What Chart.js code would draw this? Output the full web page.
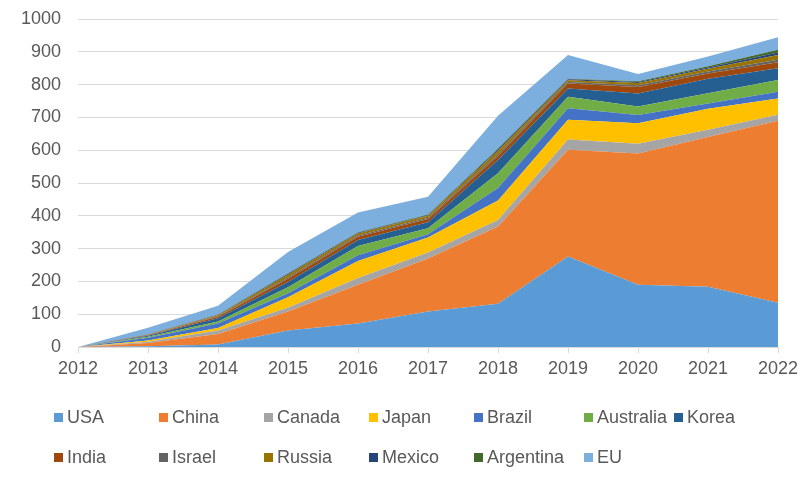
<!DOCTYPE html>
<html lang="en">

<head>
    <meta charset="UTF-8">
    <title>Stacked area by country</title>
    <script src="https://cdn.jsdelivr.net/npm/chart.js"></script>
    <style>
        body { margin: 0; background: #fff; }
        #wrap { position: relative; width: 805px; height: 485px; }
        #legend {
            position: absolute; left: 54px; top: 406px;
            display: grid;
            grid-template-columns: 105px 105px 105px 105px 110px 90px auto;
            row-gap: 17px;
            font: 18px "Liberation Sans", Arial, sans-serif; color: #595959;
        }
        #legend span.item { display: flex; align-items: center; white-space: nowrap; height: 23px; }
        #legend i { display: inline-block; width: 9px; height: 9px; margin-right: 4px; }
    </style>
</head>

<body>
    <div id="wrap">
        <canvas id="myChart" width="805" height="485"></canvas>
        <div id="legend"></div>
    </div>

    <script>
        const years = ['2012', '2013', '2014', '2015', '2016', '2017', '2018', '2019', '2020', '2021', '2022'];

        const usa = [0, 2, 8, 50, 72, 108, 132, 276, 190, 184, 135];
        const china = [0, 10, 32, 58, 118, 162, 235, 325, 400, 456, 555];
        const canada = [0, 4, 10, 12, 20, 18, 20, 32, 30, 22, 18];
        const japan = [0, 4, 8, 32, 52, 46, 60, 60, 62, 64, 50];
        const brazil = [0, 8, 14, 12, 18, 10, 38, 35, 25, 16, 20];
        const australia = [0, 3, 6, 18, 28, 18, 45, 35, 26, 32, 36];
        const korea = [0, 3, 10, 16, 18, 18, 40, 25, 40, 44, 36];
        const india = [0, 2, 4, 10, 10, 10, 12, 15, 20, 16, 18];
        const israel = [0, 1, 2, 4, 4, 4, 6, 5, 5, 6, 8];
        const russia = [0, 1, 3, 8, 6, 6, 10, 5, 7, 8, 14];
        const mexico = [0, 1, 1, 3, 2, 2, 4, 3, 3, 4, 8];
        const argentina = [0, 0, 1, 2, 2, 2, 3, 2, 2, 4, 8];
        const eu = [0, 20, 27, 65, 60, 54, 100, 72, 22, 30, 38];

        const yTicks = [0, 100, 200, 300, 400, 500, 600, 700, 800, 900, 1000];

        const series = [
            ['USA', usa, '#5B9BD5'],
            ['China', china, '#ED7D31'],
            ['Canada', canada, '#A5A5A5'],
            ['Japan', japan, '#FFC000'],
            ['Brazil', brazil, '#4472C4'],
            ['Australia', australia, '#70AD47'],
            ['Korea', korea, '#255E91'],
            ['India', india, '#9E480E'],
            ['Israel', israel, '#636363'],
            ['Russia', russia, '#997300'],
            ['Mexico', mexico, '#264478'],
            ['Argentina', argentina, '#43682B'],
            ['EU', eu, '#7CAFDD']
        ];

        const font = { family: '"Liberation Sans", Arial, sans-serif', size: 18 };
        const gridColor = '#D9D9D9';

        const ctx = document.getElementById('myChart').getContext('2d');

        const chart = new Chart(ctx, {
            type: 'line',
            data: {
                labels: years,
                datasets: series.map(([label, data, color], i) => ({
                    label: label,
                    data: data,
                    backgroundColor: color,
                    borderColor: color,
                    borderWidth: 0,
                    pointRadius: 0,
                    tension: 0,
                    fill: i === 0 ? 'origin' : '-1'
                }))
            },
            options: {
                responsive: false,
                animation: false,
                layout: { padding: { left: 0, right: 27, top: 19, bottom: 98 } },
                plugins: {
                    legend: { display: false },
                    tooltip: { enabled: false }
                },
                scales: {
                    x: {
                        offset: false,
                        grid: { drawOnChartArea: false, drawTicks: true, tickLength: 6, color: gridColor },
                        border: { color: gridColor },
                        ticks: { font: font, color: '#595959', padding: 5, maxRotation: 0 },
                        afterFit: s => { s.height = 40; }
                    },
                    y: {
                        stacked: true,
                        min: 0,
                        max: 1000,
                        afterBuildTicks: s => { s.ticks = yTicks.map(v => ({ value: v })); },
                        grid: { color: gridColor, drawTicks: false },
                        border: { display: false },
                        ticks: { font: font, color: '#595959', padding: 17, callback: v => String(v) },
                        afterFit: s => { s.width = 78; s.paddingTop = 0; }
                    }
                }
            }
        });

        const legend = document.getElementById('legend');
        series.forEach(([label, , color]) => {
            const item = document.createElement('span');
            item.className = 'item';
            const box = document.createElement('i');
            box.style.background = color;
            item.appendChild(box);
            item.appendChild(document.createTextNode(label));
            legend.appendChild(item);
        });
    </script>

</body>

</html>
